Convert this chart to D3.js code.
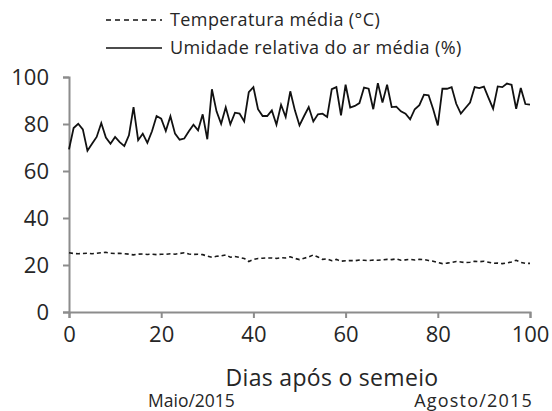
<!DOCTYPE html>
<html>
<head>
<meta charset="utf-8">
<script src="https://cdn.jsdelivr.net/npm/d3@7"></script>
<style>
  body { margin: 0; background: #fff; }
  svg text { font-family: "Open Sans", sans-serif; fill: #262626; }
</style>
</head>
<body>
<div id="chart"></div>
<script>
// dias após o semeio (0..100)
const days = d3.range(0, 101);

// Temperatura média (°C)
const temperature = [
  25.2, 24.9, 24.8, 24.9, 25.0, 24.8, 25.0, 25.2, 25.4, 25.0,
  24.9, 25.0, 24.8, 24.6, 24.3, 24.6, 24.7, 24.5, 24.6, 24.4,
  24.6, 24.5, 24.8, 24.6, 24.9, 25.2, 24.7, 24.5, 24.6, 24.4,
  23.8, 23.3, 23.7, 23.9, 24.3, 23.3, 23.6, 23.2, 22.8, 21.5,
  22.3, 22.8, 22.9, 23.0, 23.0, 22.8, 23.1, 23.0, 23.5, 22.8,
  22.3, 22.9, 23.4, 24.3, 23.4, 22.4, 22.6, 21.8, 22.4, 21.6,
  21.8, 21.9, 21.8, 22.1, 22.0, 21.9, 22.1, 22.0, 22.2, 22.4,
  22.3, 22.6, 22.0, 22.2, 22.4, 22.1, 22.4, 22.3, 21.9, 21.6,
  21.1, 20.6, 20.8, 21.1, 21.5, 21.3, 21.0, 21.2, 21.6, 21.4,
  21.6, 21.2, 20.7, 20.8, 20.6, 20.9, 21.3, 22.0, 21.1, 20.7,
  20.7
];

// Umidade relativa do ar média (%)
const humidity = [
  69.2, 78.3, 80.1, 77.7, 68.6, 71.6, 74.5, 80.4, 74.2, 71.6,
  74.5, 72.3, 70.6, 75.2, 87.2, 73.1, 75.9, 72.0, 76.9, 83.4,
  82.3, 77.0, 83.3, 75.9, 73.3, 73.8, 76.9, 79.7, 77.3, 84.1,
  73.5, 94.8, 85.4, 80.1, 87.1, 79.9, 84.8, 84.4, 81.1, 93.6,
  95.7, 86.3, 83.4, 83.4, 85.8, 79.7, 88.2, 83.0, 93.9, 85.8,
  79.4, 83.4, 87.2, 81.1, 84.1, 84.4, 83.0, 94.8, 95.7, 83.7,
  96.7, 87.0, 87.7, 88.9, 95.5, 95.0, 86.3, 97.4, 89.1, 96.7,
  87.2, 87.4, 85.4, 84.4, 82.0, 86.3, 88.0, 92.5, 92.2, 86.3,
  79.4, 95.0, 95.0, 95.7, 88.6, 84.4, 86.8, 89.1, 95.7, 95.3,
  95.9, 91.1, 86.5, 96.0, 95.7, 97.2, 96.7, 86.5, 95.3, 88.5,
  88.2
];

const xTicks = [0, 20, 40, 60, 80, 100];
const yTicks = [0, 20, 40, 60, 80, 100];
const seriesNames = ["Temperatura média (°C)", "Umidade relativa do ar média (%)"];
const xTitle = "Dias após o semeio";
const monthLabels = ["Maio/2015", "Agosto/2015"];

const width = 552, height = 411;

const svg = d3.select("#chart").append("svg")
  .attr("width", width)
  .attr("height", height);

const x = d3.scaleLinear().domain([0, 100]).range([69, 530]);
const y = d3.scaleLinear().domain([0, 100]).range([312, 77]);

// eixos
const xAxis = svg.append("g")
  .attr("transform", `translate(0,${y(0)})`)
  .call(d3.axisBottom(x).tickValues(xTicks).tickSizeOuter(0).tickSize(6).tickPadding(8));

const yAxis = svg.append("g")
  .attr("transform", `translate(${x(0)},0)`)
  .call(d3.axisLeft(y).tickValues(yTicks).tickSizeOuter(0).tickSize(6).tickPadding(14));

[xAxis, yAxis].forEach(g => {
  g.selectAll("path, line").attr("stroke", "#8c8c8c").attr("stroke-width", 2);
  g.selectAll("text").attr("font-size", 22).attr("fill", "#262626")
    .attr("font-family", "'Open Sans', sans-serif");
});

// linhas
const line = d3.line()
  .x((d, i) => x(days[i]))
  .y(d => y(d));

svg.append("path")
  .datum(temperature)
  .attr("fill", "none")
  .attr("stroke", "#1a1a1a")
  .attr("stroke-width", 1.6)
  .attr("stroke-dasharray", "4,3")
  .attr("d", line);

svg.append("path")
  .datum(humidity)
  .attr("fill", "none")
  .attr("stroke", "#111")
  .attr("stroke-width", 1.8)
  .attr("d", line);

// legenda
const legend = svg.append("g");
seriesNames.forEach((name, i) => {
  const ly = 20 + i * 28;
  legend.append("line")
    .attr("x1", 106).attr("x2", 162)
    .attr("y1", ly).attr("y2", ly)
    .attr("stroke", "#111")
    .attr("stroke-width", i === 0 ? 1.4 : 1.6)
    .attr("stroke-dasharray", i === 0 ? "5,4" : null);
  legend.append("text")
    .attr("x", 170).attr("y", ly)
    .attr("dy", "0.35em")
    .attr("font-size", 18)
    .attr("letter-spacing", 0.4)
    .text(name);
});

// títulos
svg.append("text")
  .attr("x", 332).attr("y", 378)
  .attr("dy", "0.35em")
  .attr("text-anchor", "middle")
  .attr("font-size", 23)
  .attr("letter-spacing", 0.3)
  .text(xTitle);

svg.append("text")
  .attr("x", 148).attr("y", 401)
  .attr("dy", "0.35em")
  .attr("font-size", 17.5)
  .text(monthLabels[0]);

svg.append("text")
  .attr("x", 533).attr("y", 401)
  .attr("dy", "0.35em")
  .attr("text-anchor", "end")
  .attr("font-size", 18)
  .attr("letter-spacing", 1.2)
  .text(monthLabels[1]);
</script>
</body>
</html>
